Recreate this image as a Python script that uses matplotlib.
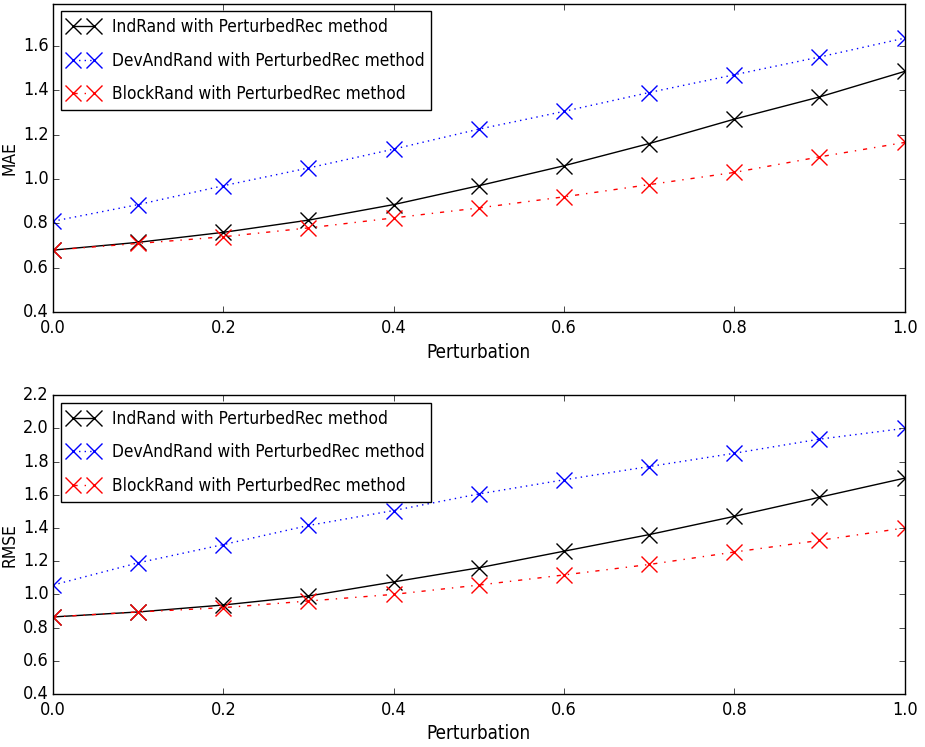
import matplotlib
matplotlib.use("Agg")
import matplotlib.pyplot as plt
from matplotlib.font_manager import FontProperties

plt.style.use('classic')
plt.rcParams['font.family'] = ['DejaVu Sans']
plt.rcParams['font.stretch'] = 'condensed'

perturbation = [0.0, 0.1, 0.2, 0.3, 0.4, 0.5, 0.6, 0.7, 0.8, 0.9, 1.0]

mae_ind = [0.68, 0.715, 0.76, 0.815, 0.885, 0.97, 1.06, 1.16, 1.27, 1.37, 1.485]
mae_dev = [0.81, 0.885, 0.97, 1.05, 1.135, 1.225, 1.305, 1.39, 1.47, 1.55, 1.635]
mae_block = [0.68, 0.71, 0.74, 0.78, 0.825, 0.87, 0.92, 0.975, 1.03, 1.10, 1.165]

rmse_ind = [0.864, 0.894, 0.936, 0.99, 1.075, 1.16, 1.26, 1.36, 1.47, 1.585, 1.70]
rmse_dev = [1.056, 1.19, 1.30, 1.415, 1.505, 1.605, 1.69, 1.77, 1.85, 1.935, 2.0]
rmse_block = [0.864, 0.894, 0.92, 0.96, 1.0, 1.056, 1.117, 1.18, 1.255, 1.325, 1.40]

mae_ticks = [0.4, 0.6, 0.8, 1.0, 1.2, 1.4, 1.6]
rmse_ticks = [0.4, 0.6, 0.8, 1.0, 1.2, 1.4, 1.6, 1.8, 2.0, 2.2]
x_ticks = [0.0, 0.2, 0.4, 0.6, 0.8, 1.0]

labels = ["IndRand with PerturbedRec method",
          "DevAndRand with PerturbedRec method",
          "BlockRand with PerturbedRec method"]

fp_leg = FontProperties(family='DejaVu Sans', stretch='condensed', size=12.4)
fp_xlab = FontProperties(family='DejaVu Sans', stretch='condensed', size=13.5)
fp_tick = FontProperties(family='DejaVu Sans', stretch='condensed', size=13)
fp_ylab = FontProperties(family='DejaVu Sans', size=12.5)

fig = plt.figure(figsize=(9.25, 7.47), dpi=100, facecolor='white')
ax1 = fig.add_axes([0.0573, 0.582, 0.9207, 0.413])
ax2 = fig.add_axes([0.0573, 0.071, 0.9207, 0.400])

def draw(ax, ind, dev, block, ylabel, ylim, yticks):
    kw = dict(marker='x', markersize=12, markeredgewidth=1)
    ax.plot(perturbation, ind, color='k', linestyle='-', label=labels[0], **kw)
    ax.plot(perturbation, dev, color='b', linestyle=':', label=labels[1], **kw)
    ax.plot(perturbation, block, color='r', linestyle='-.', label=labels[2], **kw)
    ax.set_xlim(0, 1)
    ax.set_ylim(*ylim)
    ax.set_xticks(x_ticks)
    ax.set_yticks(yticks)
    ax.set_xticklabels(['%.1f' % v for v in x_ticks], fontproperties=fp_tick)
    ax.set_yticklabels(['%.1f' % v for v in yticks], fontproperties=fp_tick)
    ax.tick_params(axis='x', pad=5)
    ax.tick_params(axis='y', pad=3)
    ax.set_xlabel('Perturbation', fontproperties=fp_xlab, labelpad=4)
    ax.set_ylabel(ylabel, fontproperties=fp_ylab, labelpad=3)
    ax.legend(loc='upper left', prop=fp_leg, numpoints=2, handlelength=1.85,
              handletextpad=0.7, labelspacing=0.9, borderpad=0.4,
              borderaxespad=0.45)

draw(ax1, mae_ind, mae_dev, mae_block, 'MAE', (0.4, 1.79), mae_ticks)
draw(ax2, rmse_ind, rmse_dev, rmse_block, 'RMSE', (0.4, 2.2), rmse_ticks)

fig.savefig('out.png', dpi=100, facecolor='white')
